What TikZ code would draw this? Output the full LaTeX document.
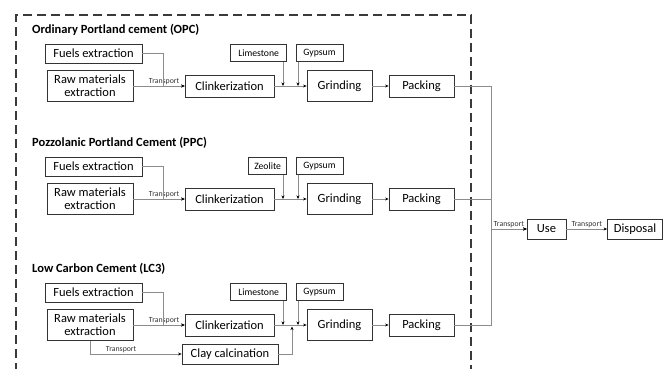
\documentclass[tikz,border=0pt]{standalone}
\usepackage{fontspec}
\setmainfont{Carlito}
\usetikzlibrary{arrows.meta}
\definecolor{boxc}{HTML}{333333}
\definecolor{linec}{HTML}{8C8C8C}
\definecolor{dashc}{HTML}{3A3A3A}
\newcommand\cemrow[4]{%
  % #1 suffix, #2 additive, #3 title, #4 additive box width
  \node[ttl] (title#1) at (32,30) {#3};
  \node[box, minimum width=97pt, minimum height=19pt] (fuel#1) at (93.5,53.5) {Fuels extraction};
  \node[box, minimum width=86pt, minimum height=31pt] (raw#1) at (90,86) {Raw materials\\extraction};
  \node[box, minimum width=89pt, minimum height=22pt] (clk#1) at (229.5,86) {Clinkerization};
  \node[sbox, minimum width=#4pt, minimum height=17pt, anchor=east] (add#1) at (287,53) {#2};
  \node[sbox, minimum width=47pt, minimum height=17pt] (gyp#1) at (319.5,53) {Gypsum};
  \node[box, minimum width=65pt, minimum height=31pt] (grd#1) at (339.5,86) {Grinding};
  \node[box, minimum width=65pt, minimum height=22pt] (pck#1) at (421.5,86) {Packing};
  \coordinate (j#1) at (163,86);
  \coordinate (la#1) at (283,86);
  \coordinate (ga#1) at (298,86);
  \draw[arr] (raw#1.east) -- node[tlab, pos=0.6, above] {Transport} (clk#1.west);
  \draw[arr] (fuel#1.east) -| (j#1) -- (clk#1.west);
  \draw[arr] (clk#1.east) -- (grd#1.west);
  \draw[arr] (add#1.south -| la#1) -- (la#1);
  \draw[arr] (gyp#1.south -| ga#1) -- (ga#1);
  \draw[arr] (grd#1.east) -- (pck#1.west);
}
\begin{document}
\begin{tikzpicture}[x=1pt,y=-1pt,
  box/.style={draw=boxc, line width=0.8pt, inner sep=0pt, align=center,
    font=\fontsize{12.5}{13}\selectfont},
  sbox/.style={draw=boxc, line width=0.7pt, inner sep=0pt,
    font=\fontsize{9.7}{10}\selectfont},
  conn/.style={draw=linec, line width=0.8pt},
  arr/.style={conn, -{Stealth[length=3.5pt,width=3pt,color=black]}},
  tlab/.style={font=\fontsize{7.8}{8}\selectfont, inner sep=0.6pt, text=boxc},
  ttl/.style={font=\bfseries\fontsize{12.5}{14}\selectfont, anchor=west, inner sep=0pt}]
\useasboundingbox (0,0) rectangle (669,369);
\draw[dashc, line width=1.8pt, dash pattern=on 9pt off 5pt] (16,372) -- (16,15) -- (471,15) -- (471,372);

\begin{scope}
\cemrow{1}{Limestone}{Ordinary Portland cement (OPC)}{56}
\end{scope}
\begin{scope}[shift={(0,113)}]
\cemrow{2}{Zeolite}{Pozzolanic Portland Cement (PPC)}{38}
\end{scope}
\begin{scope}[shift={(0,239)}]
\cemrow{3}{Limestone}{Low Carbon Cement (LC3)}{56}
\node[box, minimum width=96pt, minimum height=20pt] (clay) at (230,115) {Clay calcination};
\coordinate (ca) at (292,87.5);
\draw[arr] (raw3.south) |- node[tlab, pos=0.67, above] {Transport} (clay.west);
\draw[arr] (clay.east) -| (ca);
\end{scope}

\node[box, minimum width=39pt, minimum height=20pt] (use) at (546.5,229) {Use};
\node[box, minimum width=55pt, minimum height=20pt] (disp) at (635,229) {Disposal};
\coordinate (bus) at (491,229);
\draw[arr] (pck1.east) -| (bus) -- (use.west);
\draw[arr] (pck2.east) -| (bus) -- (use.west);
\draw[arr] (pck3.east) -| (bus) -- node[tlab, pos=0.5, above] {Transport} (use.west);
\draw[arr] (use.east) -- node[tlab, pos=0.5, above] {Transport} (disp.west);
\end{tikzpicture}
\end{document}
